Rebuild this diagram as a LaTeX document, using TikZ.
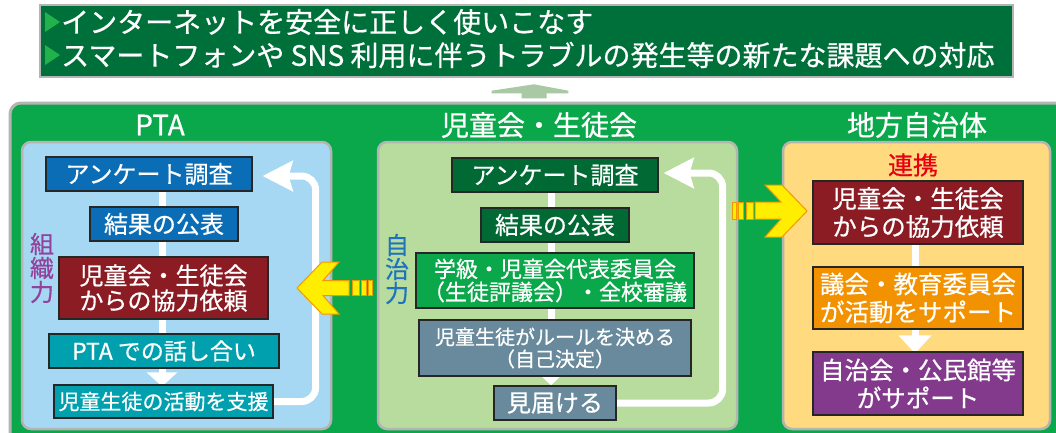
\documentclass[tikz,border=0pt]{standalone}
\usepackage{fontspec}
\setmainfont{Noto Sans CJK JP}[FakeBold=0.6]
\usetikzlibrary{arrows.meta}
\definecolor{biggreen}{HTML}{0AA84A}
\definecolor{topgreen}{HTML}{00703A}
\definecolor{trigreen}{HTML}{22B24C}
\definecolor{panelgray}{HTML}{B4B4B4}
\definecolor{ptabg}{HTML}{A6D8F3}
\definecolor{ptablue}{HTML}{0A6DB5}
\definecolor{darkred}{HTML}{8C1C24}
\definecolor{teal}{HTML}{00A0AE}
\definecolor{midbg}{HTML}{B8DB9E}
\definecolor{midgreen}{HTML}{006934}
\definecolor{grayblue}{HTML}{688A9C}
\definecolor{rightbg}{HTML}{FFDA7E}
\definecolor{orangebox}{HTML}{F39200}
\definecolor{purplebox}{HTML}{833A8C}
\definecolor{purpletext}{HTML}{93429C}
\definecolor{bluetext}{HTML}{1C74BC}
\definecolor{redtext}{HTML}{E60012}
\definecolor{arrowyellow}{HTML}{FFEE00}
\definecolor{arroworange}{HTML}{F39800}
\definecolor{uparrow}{HTML}{A9C9A4}
\pgfdeclarelayer{back}
\pgfdeclarelayer{mid}
\pgfsetlayers{back,mid,main}
\begin{document}
\begin{tikzpicture}[x=1pt,y=-1pt,
  box/.style={draw=black!85, line width=1.2pt, text=white, inner sep=0pt, align=center,
    font=\fontsize{24}{25}\selectfont},
  panel/.style={draw=panelgray, line width=2.5pt, rounded corners=9pt},
  title/.style={text=white, inner sep=0pt, font=\fontsize{28}{30}\selectfont},
  flow/.style={draw=white, line width=7pt},
  yarrow/.style={fill=arrowyellow, draw=arroworange, line width=1pt, line join=miter},
  vert/.style={inner sep=0pt, align=center, font=\fontsize{24}{24}\selectfont}]
\useasboundingbox (0,0) rectangle (1056,432);

% big green panel and inner panels
\begin{pgfonlayer}{back}
\clip (0,0) rectangle (1056,432);
\fill[white] (0,0) rectangle (1056,432);
\draw[panel, fill=biggreen, line width=3pt, rounded corners=11pt] (10,103) rectangle (1080,460);
\draw[panel, fill=ptabg] (22,142) rectangle (331,429);
\draw[panel, fill=midbg] (378,142) rectangle (737,429);
\draw[panel, fill=rightbg] (783,142) rectangle (1050,429);
\end{pgfonlayer}

% top box
\node[draw=panelgray, line width=2pt, fill=topgreen, minimum width=973pt, minimum height=72pt, inner sep=0pt] (top) at (526.5,41) {};
\fill[trigreen] (45,12) -- (60,22) -- (45,32) -- cycle;
\fill[trigreen] (45,45) -- (60,55) -- (45,65) -- cycle;
\node[anchor=west, text=white, inner sep=0pt, font=\fontsize{28}{30}\selectfont] (t1) at (61,22) {インターネットを安全に正しく使いこなす};
\node[anchor=west, text=white, inner sep=0pt, font=\fontsize{28}{30}\selectfont] (t2) at (61,55) {スマートフォンや SNS 利用に伴うトラブルの発生等の新たな課題への対応};

% up arrow
\fill[uparrow] (534,84.3) -- (568.3,90.7) -- (568.3,93.3) -- (546.7,93.3) -- (546.7,98.3)
  -- (521.7,98.3) -- (521.7,93.3) -- (491.7,93.3) -- (491.7,90.7) -- cycle;

\node[title] (ttl1) at (160,125) {PTA};
\node[title] (ttl2) at (539,125) {児童会・生徒会};
\node[title] (ttl3) at (917,125) {地方自治体};

% PTA column
\node[box, fill=ptablue, minimum width=206pt, minimum height=34pt] (p1) at (149,174) {アンケート調査};
\node[box, fill=ptablue, minimum width=148pt, minimum height=34pt] (p2) at (164,224) {結果の公表};
\node[box, fill=darkred, minimum width=209pt, minimum height=62pt] (p3) at (163.5,288) {児童会・生徒会\\からの協力依頼};
\node[box, fill=teal, minimum width=230pt, minimum height=34pt, font=\fontsize{23}{24}\selectfont] (p4) at (164,351) {PTA での話し合い};
\node[box, fill=teal, minimum width=219pt, minimum height=33pt, font=\fontsize{21}{22}\selectfont] (p5) at (163.5,401.5) {児童生徒の活動を支援};
\node[vert, text=purpletext] (sosiki) at (42,268) {組\\織\\力};

% middle column
\node[box, fill=midgreen, minimum width=206pt, minimum height=34pt] (m1) at (555,175) {アンケート調査};
\node[box, fill=midgreen, minimum width=148pt, minimum height=34pt] (m2) at (555,225) {結果の公表};
\node[box, fill=biggreen, minimum width=278pt, minimum height=55pt, font=\fontsize{22}{23}\selectfont] (m3) at (555,280.5) {学級・児童会代表委員会\\（生徒評議会）・全校審議};
\node[box, fill=grayblue, minimum width=272pt, minimum height=56pt, font=\fontsize{20}{22}\selectfont] (m4) at (555,348) {児童生徒がルールを決める\\（自己決定）};
\node[box, fill=grayblue, minimum width=122pt, minimum height=34pt] (m5) at (555,403) {見届ける};
\node[vert, text=bluetext] (jichi) at (397,269) {自\\治\\力};

% right column
\node[text=redtext, inner sep=0pt, font=\fontsize{25}{26}\selectfont] (renkei) at (913,165) {連携};
\node[box, fill=darkred, minimum width=210pt, minimum height=63pt, font=\fontsize{24.5}{28}\selectfont] (r1) at (918,212.5) {児童会・生徒会\\からの協力依頼};
\node[box, fill=orangebox, minimum width=210pt, minimum height=62pt, font=\fontsize{24.5}{28}\selectfont] (r2) at (918,298) {議会・教育委員会\\が活動をサポート};
\node[box, fill=purplebox, minimum width=210pt, minimum height=63pt, font=\fontsize{24.5}{28}\selectfont] (r3) at (918,383.5) {自治会・公民館等\\がサポート};

% flow lines
\coordinate (px) at (162,0);
\coordinate (mx) at (551,0);
\coordinate (rx) at (915,0);
\begin{pgfonlayer}{mid}
\draw[flow, -{Triangle[length=14pt,width=30pt]}] (p1.south -| px) -- ([yshift=-2pt]p5.north -| px);
\draw[flow, -{Triangle[length=10pt,width=20pt]}] (m1.south -| mx) -- (m5.north -| mx);
\draw[flow, -{Triangle[length=18pt,width=32pt]}] (r1.south -| rx) -- ([yshift=-2pt]r3.north -| rx);
\draw[flow, rounded corners=14pt, -{Stealth[length=30pt,width=30pt,inset=4pt]}]
  (p5.east) -- ++(42,0) |- ([xshift=10pt,yshift=-2pt]p1.east);
\draw[flow, rounded corners=14pt, -{Stealth[length=30pt,width=30pt,inset=4pt]}]
  (m5.east) -- ++(106,0) |- ([xshift=5pt,yshift=2pt]m1.east);
\end{pgfonlayer}

% yellow arrows
\draw[yarrow] (807,211) -- (782,185) -- (765,185) -- (781,202) -- (755,202) -- (755,219)
  -- (781,219) -- (765,237) -- (782,237) -- cycle;
\draw[yarrow] (746,202) rectangle (753,219);
\draw[yarrow] (738,202) rectangle (743,219);
\draw[yarrow] (732,202) rectangle (736,219);

\draw[yarrow] (297,288) -- (322,262) -- (339,262) -- (323,280.5) -- (349,280.5) -- (349,295.5)
  -- (323,295.5) -- (339,314) -- (322,314) -- cycle;
\draw[yarrow] (352,280.5) rectangle (359,295.5);
\draw[yarrow] (361,280.5) rectangle (366,295.5);
\draw[yarrow] (368,280.5) rectangle (372,295.5);
\end{tikzpicture}
\end{document}
